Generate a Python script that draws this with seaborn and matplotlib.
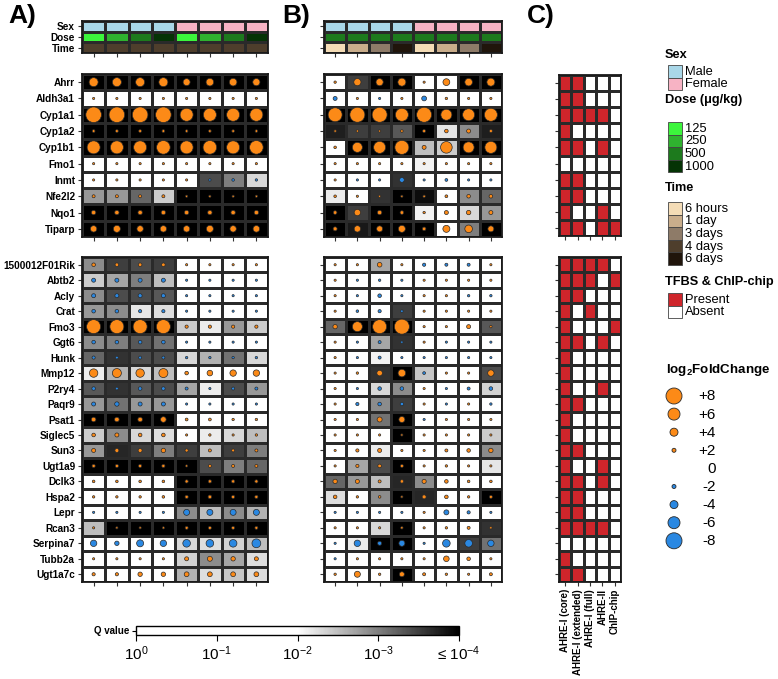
import numpy as np
import pandas as pd
import matplotlib
matplotlib.use("Agg")
import matplotlib.pyplot as plt
import seaborn as sns
from matplotlib.colors import ListedColormap, LinearSegmentedColormap, Normalize
from matplotlib.patches import Rectangle

plt.rcParams['font.family'] = ['Liberation Sans', 'DejaVu Sans']
plt.rcParams['mathtext.fontset'] = 'custom'
plt.rcParams['mathtext.rm'] = 'Liberation Sans'
plt.rcParams['mathtext.bf'] = 'Liberation Sans:bold'
plt.rcParams['mathtext.it'] = 'Liberation Sans:italic'

# ---- data ----
top_genes = ["Ahrr", "Aldh3a1", "Cyp1a1", "Cyp1a2", "Cyp1b1", "Fmo1", "Inmt", "Nfe2l2", "Nqo1", "Tiparp"]
bot_genes = ["1500012F01Rik", "Abtb2", "Acly", "Crat", "Fmo3", "Ggt6", "Hunk", "Mmp12", "P2ry4", "Paqr9",
             "Psat1", "Siglec5", "Sun3", "Ugt1a9", "Dclk3", "Hspa2", "Lepr", "Rcan3", "Serpina7", "Tubb2a", "Ugt1a7c"]

sex_a = ["Male"] * 4 + ["Female"] * 4
dose_a = ["125", "250", "500", "1000"] * 2
time_a = ["4 days"] * 8
sex_b = ["Male"] * 4 + ["Female"] * 4
dose_b = ["500"] * 8
time_b = ["6 hours", "1 day", "3 days", "6 days"] * 2

# -log10(Q value), capped at 4
q_a_top = [
    [4, 4, 4, 4, 4, 4, 4, 4],
    [0, 0, 0, 0, 0, 0, 0, 0],
    [4, 4, 4, 4, 4, 4, 4, 4],
    [4, 4, 4, 4, 4, 4, 4, 4],
    [4, 4, 4, 4, 4, 4, 4, 4],
    [0, 0, 0, 0, 0, 0, 0, 0],
    [0, 0, 0, 0, 0, 3.4, 3.0, 2.3],
    [2.8, 2.8, 3.2, 2.4, 4, 4, 4, 4],
    [4, 4, 4, 4, 4, 4, 4, 4],
    [4, 4, 4, 4, 4, 4, 4, 4],
]
fc_a_top = [
    [4.5, 4.5, 4.5, 4.5, 3.5, 3.8, 3.8, 3.6],
    [0.4, 0.4, 0.4, 0.4, 0.4, 0.4, 0.4, 0.4],
    [7.8, 7.8, 7.8, 7.8, 6.5, 6.5, 6.5, 6.5],
    [1.4, 1.4, 1.4, 1.4, 1.3, 1.3, 1.3, 1.3],
    [6.5, 6.5, 6.5, 6.8, 6.5, 6.8, 6.5, 6.8],
    [0.4, 0.4, 0.4, 0.4, 0.4, 0.4, 0.4, 0.4],
    [0.4, 0.4, 0.4, 0.4, 0.4, -1.2, -1.3, -1.2],
    [1.5, 1.5, 1.5, 1.5, 1.0, 1.0, 1.0, 1.0],
    [2.2, 2.2, 2.2, 2.2, 2.2, 2.2, 2.2, 2.2],
    [3.2, 3.5, 3.2, 3.2, 3.2, 3.5, 3.2, 3.3],
]
q_a_bot = [
    [2.9, 3.5, 3.4, 3.5, 0, 0, 0, 0],
    [2.4, 2.7, 3.0, 2.5, 0, 0, 0, 0],
    [2.9, 3.4, 3.4, 3.3, 0, 0, 0, 0],
    [2.8, 2.9, 2.2, 2.25, 0, 0, 0, 0],
    [4, 4, 4, 4, 2.4, 2.15, 2.8, 2.4],
    [2.9, 3.0, 3.3, 3.1, 0, 0, 0, 0],
    [3.2, 3.6, 3.4, 3.4, 2.3, 2.6, 3.1, 2.3],
    [2.15, 2.6, 2.3, 2.5, 0, 0, 0, 0],
    [3.3, 3.6, 3.3, 3.4, 2.7, 2.15, 3.4, 2.8],
    [2.8, 3.1, 2.8, 2.8, 0, 0, 0, 0],
    [4, 4, 4, 4, 0, 0, 0, 0],
    [2.4, 2.9, 2.3, 2.25, 0, 2.15, 2.3, 2.5],
    [2.8, 3.7, 3.5, 3.0, 3.5, 2.5, 3.5, 3.0],
    [4, 4, 4, 4, 4, 3.4, 3.0, 3.2],
    [0, 0, 0, 0, 4, 4, 4, 4],
    [0, 0, 0, 0, 4, 4, 4, 4],
    [0, 0, 0, 0, 2.9, 2.5, 2.9, 2.6],
    [2.5, 4, 4, 4, 4, 4, 4, 4],
    [0, 0, 0, 0, 2.3, 2.25, 2.35, 2.5],
    [0, 0, 0, 0, 2.35, 2.9, 2.7, 2.25],
    [0, 0, 0, 0, 2.6, 2.25, 2.45, 2.25],
]
fc_a_bot = [
    [1.8, 1.8, 1.8, 1.8, 0.6, 0.4, 0.4, 0.4],
    [-2.0, -2.0, -2.0, -2.0, -0.4, -0.4, -0.4, -0.4],
    [-2.0, -2.0, -2.0, -2.0, -0.5, -0.3, -0.8, -0.6],
    [-1.8, -1.8, -1.6, -1.6, -0.5, -0.6, -0.6, -0.5],
    [7.0, 7.0, 7.0, 7.0, 1.6, 1.6, 1.6, 1.6],
    [-1.8, -1.8, -1.8, -1.8, -0.4, -0.4, -0.6, -0.6],
    [-1.6, -1.4, -1.5, -1.5, -1.2, -1.2, -1.2, -1.2],
    [4.2, 4.5, 4.2, 4.5, 1.8, 2.8, 3.2, 3.2],
    [-1.8, -1.4, -1.8, -1.8, -1.5, -1.0, -1.5, -1.5],
    [-2.0, -2.2, -2.0, -2.0, -0.5, -0.8, -0.8, -0.8],
    [2.3, 2.3, 2.3, 2.8, 1.4, 1.4, 1.2, 1.2],
    [1.8, 2.0, 1.8, 1.8, 1.0, 1.2, 1.0, 1.2],
    [2.0, 2.0, 2.0, 2.2, 1.6, 1.5, 1.5, 1.5],
    [1.6, 1.6, 1.6, 1.6, 1.0, 1.5, 1.5, 1.5],
    [1.3, 1.3, 1.3, 1.3, 1.6, 1.6, 1.6, 1.6],
    [1.2, 1.2, 1.2, 1.3, 1.6, 1.8, 1.6, 1.6],
    [-1.0, -1.0, -1.0, -1.0, -3.0, -3.0, -3.0, -3.0],
    [1.0, 1.0, 1.0, 1.0, 1.5, 1.5, 1.5, 1.5],
    [-3.2, -2.2, -3.5, -3.2, -3.8, -3.8, -3.8, -4.4],
    [0.8, 0.9, 0.9, 0.9, 2.0, 2.5, 2.2, 2.0],
    [1.6, 1.6, 2.2, 2.2, 2.4, 2.4, 2.4, 2.4],
]
q_b_top = [
    [0, 3.5, 4, 4, 0, 0, 4, 4],
    [0, 0, 0, 0, 0, 0, 0, 0],
    [4, 4, 4, 4, 4, 4, 4, 4],
    [3.75, 3.5, 3.5, 3.3, 4, 2.2, 2.9, 3.75],
    [0, 4, 4, 4, 2.5, 2.4, 4, 4],
    [0, 0, 0, 0, 2.1, 0, 0, 0],
    [0, 0, 0, 3.6, 0, 0, 0, 0],
    [2.15, 0, 3.6, 4, 3.9, 0, 2.9, 3.2],
    [4, 3.5, 4, 4, 2.1, 0, 2.3, 2.8],
    [4, 3.8, 4, 4, 4, 0, 3.0, 4],
]
fc_b_top = [
    [1.2, 3.6, 3.6, 4.0, 1.0, 3.4, 3.8, 4.0],
    [-2.0, 0.4, -0.7, 0.4, -2.4, 1.2, 0.4, 0.4],
    [7.0, 7.5, 7.5, 6.5, 7.5, 5.5, 6.0, 6.5],
    [1.2, 1.2, 1.0, 1.3, 1.5, 1.8, 2.0, 1.5],
    [1.3, 5.0, 6.0, 7.0, 2.0, 5.8, 5.5, 6.0],
    [1.0, 0.5, 0.5, 0.5, 1.0, 0.4, 0.4, 0.5],
    [0.4, -0.8, -1.0, -2.4, -0.7, -1.4, -0.9, -0.9],
    [1.3, 0.9, 0.9, 1.0, 1.2, 1.4, 1.8, 1.8],
    [1.8, 3.2, 2.2, 1.8, 1.2, 2.0, 2.2, 2.0],
    [2.0, 3.2, 3.0, 3.5, 1.8, 3.5, 3.8, 3.0],
]
q_b_bot = [
    [0, 0, 2.7, 0, 0, 0, 0, 0],
    [0, 0, 0, 0, 0, 0, 0, 0],
    [0, 0, 0, 0, 0, 0, 0, 0],
    [0, 0, 0, 3.5, 0, 0, 0, 0],
    [3.2, 4, 4, 4, 0, 0, 0, 3.3],
    [0, 0, 2.7, 3.6, 0, 0, 0, 0],
    [0, 0, 2.1, 0, 0, 0, 0, 0],
    [0, 0, 3.6, 4, 2.45, 0, 0, 3.4],
    [0, 0, 2.3, 2.9, 0, 0, 0, 2.35],
    [0, 0, 2.9, 3.5, 0, 0, 0, 0],
    [0, 0, 3.1, 4, 0, 0, 0, 0],
    [0, 0, 0, 4, 0, 0, 0, 2.4],
    [0, 0, 2.15, 0, 0, 0, 0, 2.9],
    [0, 2.7, 3.4, 4, 0, 0, 0, 2.2],
    [3.2, 2.8, 2.5, 3.7, 2.9, 0, 0, 0],
    [2.25, 0, 2.9, 4, 3.7, 0, 0, 4],
    [0, 0, 0, 0, 0, 0, 0, 0],
    [0, 0, 2.3, 4, 0, 0, 0, 3.6],
    [0, 2.15, 4, 4, 0, 0, 3.5, 3.1],
    [0, 0, 0, 0, 0, 0, 0, 0],
    [0, 0, 0, 4, 0, 0, 0, 0],
]
fc_b_bot = [
    [0.5, 1.0, 2.3, 1.0, -1.6, -1.5, -1.5, 0.5],
    [0.3, -0.8, -1.2, -0.6, 0.8, 0.6, 0.3, 0.3],
    [0.3, -0.7, -1.8, -0.6, 0.4, 0.3, -1.2, -1.2],
    [0.3, -1.3, -1.6, -1.3, 1.0, 0.4, 0.8, 0.3],
    [2.2, 5.0, 7.0, 7.5, 0.8, 0.4, 2.0, 1.2],
    [0.4, -0.6, -1.5, -1.2, 0.6, -0.5, -0.5, -0.6],
    [0.3, -0.6, -1.5, -0.6, -0.4, -0.6, -0.8, -0.7],
    [0.3, 1.2, 2.8, 3.8, -1.4, 0.4, 0.8, 3.2],
    [0.3, -0.9, -1.8, -1.8, 0.8, -0.9, -1.5, -1.8],
    [0.3, -1.6, -1.8, -1.7, 0.8, -0.6, 0.3, -1.2],
    [0.3, 0.4, 2.5, 3.0, -0.5, 0.8, 0.3, 0.8],
    [0.3, 0.8, 0.9, 1.0, 0.3, 0.3, 0.5, 1.0],
    [0.5, 1.6, 2.0, 0.8, 0.4, 1.5, 1.8, 2.2],
    [0.8, 1.6, 1.8, 1.5, 0.4, 1.2, 1.0, 1.0],
    [2.2, 2.0, 1.5, 1.7, 2.1, 1.8, 1.3, 1.3],
    [1.8, 1.2, 1.3, 1.0, 2.0, 1.8, 1.2, 1.5],
    [-0.4, -0.4, -0.6, -0.9, 0.3, -2.5, -1.6, -1.0],
    [0.5, 0.8, 1.0, 1.2, 0.3, 1.2, 1.5, 1.2],
    [-0.5, -3.2, -2.0, -3.0, -0.4, -3.8, -3.8, -3.2],
    [-0.5, 0.3, 0.3, 1.0, 0.3, 2.8, 1.8, 0.8],
    [1.2, 3.0, 1.2, 2.5, 1.5, 1.2, 0.4, 1.5],
]

# TFBS & ChIP-chip (1 = present)
tfbs_cols = ["AHRE-I (core)", "AHRE-I (extended)", "AHRE-I (full)", "AHRE-II", "ChIP-chip"]
tfbs_top = [
    [1, 1, 0, 0, 0], [1, 1, 0, 0, 0], [1, 1, 1, 1, 0], [1, 0, 0, 0, 0], [1, 1, 0, 1, 0],
    [0, 0, 0, 0, 0], [1, 1, 0, 0, 0], [1, 1, 0, 0, 0], [1, 0, 0, 1, 0], [1, 1, 0, 1, 1],
]
tfbs_bot = [
    [1, 1, 1, 1, 0], [1, 1, 1, 0, 1], [1, 1, 0, 0, 0], [1, 0, 1, 0, 0], [1, 0, 0, 0, 1],
    [1, 1, 0, 1, 0], [1, 0, 0, 0, 0], [1, 0, 0, 0, 0], [1, 0, 0, 1, 0], [1, 1, 0, 0, 0],
    [1, 0, 0, 0, 0], [1, 0, 0, 0, 0], [1, 1, 0, 0, 0], [1, 0, 0, 1, 0], [1, 1, 0, 1, 0],
    [1, 1, 0, 0, 0], [1, 1, 0, 0, 0], [1, 1, 1, 1, 0], [0, 0, 0, 0, 0], [1, 0, 0, 0, 0],
    [1, 1, 0, 0, 0],
]

sex_levels = ["Male", "Female"]
dose_levels = ["125", "250", "500", "1000"]
time_levels = ["6 hours", "1 day", "3 days", "4 days", "6 days"]
tfbs_levels = ["Present", "Absent"]
fc_legend = [8, 6, 4, 2, 0, -2, -4, -6, -8]

# ---- styles ----
sex_colors = ["#a9d7e8", "#f7b3c4"]
dose_colors = ["#3cf53c", "#2fb22f", "#1d7a1d", "#053305"]
time_colors = ["#f4dcb6", "#c9ad8b", "#8e7b68", "#4e3e2c", "#20150b"]
ORANGE = "#fc8a17"
BLUE = "#2a88e2"
RED = "#cf252b"
GRID = "#2a2a2a"

q_cmap = LinearSegmentedColormap.from_list("q", [(0, "white"), (0.5, "white"), (1, "black")])

W, H = 778, 679
fig = plt.figure(figsize=(W / 100, H / 100), dpi=100)


def px_axes(x0, y0, x1, y1):
    return fig.add_axes([x0 / W, 1 - y1 / H, (x1 - x0) / W, (y1 - y0) / H])


def frame(ax, nrow, ncol, ylabels=None, xlabels=None):
    for s in ax.spines.values():
        s.set_visible(True)
        s.set_linewidth(1.3)
        s.set_color("#1a1a1a")
    ax.set_xticks(np.arange(ncol) + 0.5)
    ax.set_yticks(np.arange(nrow) + 0.5)
    ax.set_xticklabels(xlabels if xlabels else [])
    ax.set_yticklabels(ylabels if ylabels else [])
    ax.tick_params(left=True, bottom=True, length=3, width=0.8, color="#333333", pad=2)
    for t in ax.get_yticklabels():
        t.set_fontsize(7.2)
        t.set_fontweight("bold")
        t.set_rotation(0)
    ax.set_xlabel("")
    ax.set_ylabel("")


def fc_size(v):
    # marker area (pt^2): diameter grows with |log2FC|
    return (np.maximum(np.abs(v) * 2.0, 2.2) * 0.72) ** 2


def dot_block(ax, q, fc, labels):
    q = np.array(q, dtype=float)
    fc = np.array(fc, dtype=float)
    sns.heatmap(q, cmap=q_cmap, vmin=0, vmax=4, cbar=False, linewidths=1.0, linecolor=GRID,
                xticklabels=False, yticklabels=False, ax=ax)
    rows, cols = np.indices(fc.shape)
    df = pd.DataFrame({"x": cols.ravel() + 0.5, "y": rows.ravel() + 0.5, "fc": fc.ravel()})
    df["dir"] = np.where(df["fc"] > 0, "up", "down")
    sns.scatterplot(data=df, x="x", y="y", hue="dir", palette={"up": ORANGE, "down": BLUE},
                    s=fc_size(df["fc"].values), edgecolor="#2a2a2a", linewidth=0.5,
                    legend=False, ax=ax, zorder=3)
    ax.set_xlim(0, fc.shape[1])
    ax.set_ylim(fc.shape[0], 0)
    frame(ax, *fc.shape, ylabels=labels)


def ann_block(ax, sex, dose, time, labels):
    colors = sex_colors + dose_colors + time_colors
    codes = np.array([
        [sex_levels.index(s) for s in sex],
        [2 + dose_levels.index(d) for d in dose],
        [6 + time_levels.index(t) for t in time],
    ])
    sns.heatmap(codes, cmap=ListedColormap(colors), vmin=-0.5, vmax=len(colors) - 0.5, cbar=False,
                linewidths=1.0, linecolor=GRID, xticklabels=False, yticklabels=False, ax=ax)
    frame(ax, 3, len(sex), ylabels=labels)


# Panel A
ann_block(px_axes(82, 21, 268, 53), sex_a, dose_a, time_a, ["Sex", "Dose", "Time"])
dot_block(px_axes(82, 74, 268, 237), q_a_top, fc_a_top, top_genes)
dot_block(px_axes(82, 257, 268, 582), q_a_bot, fc_a_bot, bot_genes)

# Panel B
ann_block(px_axes(324, 21, 502, 53), sex_b, dose_b, time_b, None)
dot_block(px_axes(324, 74, 502, 237), q_b_top, fc_b_top, None)
dot_block(px_axes(324, 257, 502, 582), q_b_bot, fc_b_bot, None)

# Panel C
tf_cmap = ListedColormap(["white", RED])
ax_ct = px_axes(559, 75, 621, 236)
sns.heatmap(np.array(tfbs_top), cmap=tf_cmap, vmin=0, vmax=1, cbar=False, linewidths=1.0,
            linecolor=GRID, xticklabels=False, yticklabels=False, ax=ax_ct)
frame(ax_ct, len(tfbs_top), len(tfbs_cols))
ax_cb = px_axes(559, 257, 621, 582)
sns.heatmap(np.array(tfbs_bot), cmap=tf_cmap, vmin=0, vmax=1, cbar=False, linewidths=1.0,
            linecolor=GRID, xticklabels=False, yticklabels=False, ax=ax_cb)
frame(ax_cb, len(tfbs_bot), len(tfbs_cols), xlabels=tfbs_cols)
for t in ax_cb.get_xticklabels():
    t.set_rotation(90)
    t.set_fontsize(7.0)
    t.set_fontweight("bold")

# Q value colour bar
cax = px_axes(136, 626, 459, 635)
sm = plt.cm.ScalarMappable(norm=Normalize(0, 4), cmap=q_cmap)
cb = fig.colorbar(sm, cax=cax, orientation="horizontal")
cb.set_ticks([0, 1, 2, 3, 4])
cb.set_ticklabels(["10$^{0}$", "10$^{-1}$", "10$^{-2}$", "10$^{-3}$", "≤ 10$^{-4}$"])
cb.outline.set_linewidth(1.0)
cax.tick_params(axis="x", labelsize=11, length=4, width=0.8, pad=3)
cax.yaxis.set_visible(True)
cax.set_yticks([0.5])
cax.set_yticklabels(["Q value"], fontsize=7.0, fontweight="bold")
cax.tick_params(axis="y", left=True, length=3, width=0.8, pad=2)

# panel letters
for x, lab in [(8, "A)"), (282, "B)"), (527, "C)")]:
    fig.text(x / W, 1 - 4 / H, lab, fontsize=19, fontweight="bold", va="top", ha="left")

# legends, drawn in an axes measured in pixels
lax = px_axes(640, 30, 778, 600)
lax.set_xlim(640, 778)
lax.set_ylim(600, 30)
lax.axis("off")

box_groups = [
    ("Sex", sex_levels, sex_colors, 55, 65),
    ("Dose (μg/kg)", dose_levels, dose_colors, 100, 122),
    ("Time", time_levels, time_colors, 188, 202),
    ("TFBS & ChIP-chip", tfbs_levels, [RED, "white"], 282, 293),
]
pitch = 12.6
for title, levels, colors, ty, by in box_groups:
    lax.text(665, ty, title, fontsize=9.2, fontweight="bold", va="center", ha="left")
    for i, (lev, col) in enumerate(zip(levels, colors)):
        y0 = by + i * pitch
        lax.add_patch(Rectangle((668, y0), 14, pitch, facecolor=col, edgecolor="#444444", linewidth=0.6))
        lax.text(685, y0 + pitch / 2 + 0.5, lev, fontsize=9.3, va="center", ha="left")

lax.text(666, 370, r"log$_\mathbf{2}$FoldChange", fontsize=9.6, fontweight="bold", va="center", ha="left")
fc_vals = np.array(fc_legend, dtype=float)
fc_y = 396 + np.arange(len(fc_vals)) * 18.1
shown = fc_vals != 0
lax.scatter(np.full(shown.sum(), 674.0), fc_y[shown], s=fc_size(fc_vals[shown]),
            c=[ORANGE if v > 0 else BLUE for v in fc_vals[shown]], edgecolors="#2a2a2a", linewidths=0.6)
for v, y in zip(fc_vals, fc_y):
    lab = f"+{int(v)}" if v > 0 else ("0" if v == 0 else f"-{int(abs(v))}")
    lax.text(716, y + 0.5, lab, fontsize=11, va="center", ha="right")

fig.savefig("out.png", dpi=100)
